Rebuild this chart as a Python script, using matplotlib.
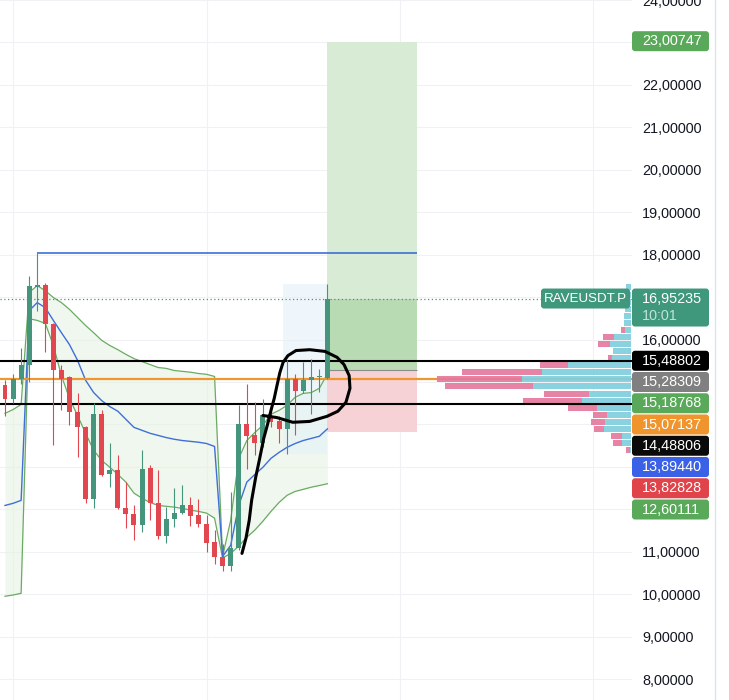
import numpy as np
import matplotlib
matplotlib.use('Agg')
import matplotlib.pyplot as plt
from matplotlib.patches import Rectangle, FancyBboxPatch
from matplotlib.lines import Line2D

plt.rcParams['font.family'] = ['Liberation Sans', 'DejaVu Sans']

# candles
opens = [14.92, 14.61, 15.07, 15.41, 17.23, 17.29, 16.37, 15.29, 15.11, 14.29,
         13.93, 12.24, 14.25, 12.82, 12.92, 12.02, 11.88, 11.62, 12.97, 12.15,
         11.36, 11.76, 11.92, 12.11, 11.86, 11.66, 11.22, 10.87, 10.67, 11.08,
         14.02, 13.74, 13.56, 14.17, 14.09, 13.88, 15.08, 14.79, 15.04, 15.11,
         15.10]
highs = [15.04, 15.18, 15.79, 17.50, 18.05, 17.33, 16.40, 15.39, 15.15, 14.73,
         13.96, 14.50, 14.33, 13.55, 13.27, 12.64, 12.10, 13.40, 13.04, 12.93,
         12.05, 12.49, 12.58, 12.29, 12.25, 11.86, 11.51, 11.19, 12.41, 14.45,
         14.96, 14.52, 14.60, 14.40, 14.20, 15.51, 15.19, 15.47, 15.55, 15.31,
         17.31]
lows = [14.20, 14.50, 14.96, 15.00, 16.68, 15.70, 13.51, 14.33, 13.98, 13.23,
        12.14, 12.03, 12.78, 12.52, 12.00, 11.55, 11.27, 11.47, 11.74, 11.31,
        11.20, 11.58, 11.90, 11.61, 11.58, 11.00, 10.72, 10.55, 10.55, 11.05,
        12.96, 13.27, 13.47, 13.94, 13.55, 13.31, 13.74, 14.75, 14.25, 14.76,
        15.08]
closes = [14.61, 15.07, 15.41, 17.25, 17.29, 16.37, 15.29, 15.08, 14.29, 13.94,
          12.24, 14.25, 12.81, 12.92, 12.02, 11.88, 11.62, 12.96, 12.15, 11.36,
          11.76, 11.92, 12.11, 11.84, 11.65, 11.21, 10.87, 10.67, 11.08, 14.02,
          13.72, 13.56, 14.21, 14.05, 13.88, 15.08, 14.79, 15.04, 15.11, 15.13,
          16.95235]

# anchored vwap with bands (resets at bar 3 and bar 27)
upper_band = [14.26, 14.35, 14.47,
              17.11, 17.27, 17.15, 16.99, 16.87, 16.71, 16.52, 16.33, 16.16, 15.98,
              15.86, 15.76, 15.65, 15.55, 15.48, 15.41, 15.34, 15.32, 15.27, 15.25,
              15.23, 15.20, 15.18, 15.13,
              10.89, 11.74, 13.20, 13.62, 13.81, 13.98, 14.24, 14.33, 14.45, 14.64,
              14.73, 14.75, 14.85, 15.18768]
vwap = [12.09, 12.14, 12.21,
        16.68, 16.87, 16.75, 16.45, 16.16, 15.88, 15.51, 15.04, 14.75, 14.56,
        14.42, 14.31, 14.12, 13.93, 13.86, 13.79, 13.74, 13.69, 13.65, 13.62,
        13.60, 13.58, 13.55, 13.48,
        10.89, 11.15, 12.09, 12.64, 12.82, 12.99, 13.20, 13.34, 13.46, 13.55,
        13.62, 13.67, 13.72, 13.89440]
lower_band = [9.95, 9.98, 10.02,
              16.49, 16.45, 16.38, 15.86, 15.15, 14.61, 14.21, 13.79, 13.39, 13.15,
              12.99, 12.82, 12.64, 12.38, 12.26, 12.16, 12.09, 12.07, 12.05, 12.02,
              11.98, 11.95, 11.91, 11.79,
              10.85, 10.96, 11.13, 11.34, 11.51, 11.72, 11.95, 12.16, 12.33, 12.42,
              12.47, 12.52, 12.56, 12.60111]

# visible range volume profile, rows from top to bottom
vp_top, vp_bottom = 17.31, 13.31
vp_up = [5, 6, 6, 6, 7, 7, 6, 17, 21, 18, 19, 63, 89, 109, 98, 42, 49, 34, 24, 26, 27, 9, 9, 1]
vp_down = [0, 0, 0, 0, 0, 0, 4, 11, 12, 0, 4, 28, 80, 85, 88, 45, 59, 29, 14, 14, 10, 11, 9, 4]
vp_first_bar, vp_last_bar = 34.5, 40

black_levels = [15.48802, 14.48806]
orange_level = 15.07137
blue_level = 18.05
blue_level_bars = (4, 51.1)
last_price = 16.95235
entry, target, stop = 15.28309, 23.00747, 13.82828
long_bars = (40, 51.1)

price_ticks = [8, 9, 10, 11, 16, 18, 19, 20, 21, 22, 24]
axis_labels = [15.48802, 15.28309, 15.18768, 15.07137, 14.48806, 13.89440, 13.82828, 12.60111]
axis_label_colors = ['#000000', '#808080', '#5aa95a', '#f0952d', '#0a0a0a', '#3b62e6', '#e0434a', '#5aa95a']

# hand drawn circle + stroke, in (bar index, price)
scribble_x = [32.0, 33.75, 35.7, 37.8, 39.95, 41.3, 42.3, 42.8, 42.7, 42.06, 41.2, 39.7, 37.8,
              36.1, 35.1, 34.5, 34.1, 33.75, 33.4, 33.0, 32.6, 32.1, 31.6, 31.1, 30.6, 30.3,
              29.9, 29.4]
scribble_p = [14.21, 14.16, 14.05, 14.07, 14.19, 14.31, 14.52, 14.85, 15.15, 15.41, 15.58, 15.72,
              15.76, 15.74, 15.62, 15.46, 15.22, 14.92, 14.61, 14.33, 14.02, 13.67, 13.20, 12.75,
              12.21, 11.74, 11.32, 10.96]

W, H = 729, 700
AX_W = 632
PX_PER_BAR = 8.06
PX_PER_UNIT = 42.5
X0 = -5 / PX_PER_BAR
X1 = (AX_W - 5) / PX_PER_BAR
Y0 = 18 - 446 / PX_PER_UNIT
Y1 = 18 + 254 / PX_PER_UNIT

green = '#45957d'
red = '#e2464f'
teal = '#3f977c'


def fmt(v):
    return f'{v:.5f}'.replace('.', ',')


def py(p):
    return (Y1 - p) / (Y1 - Y0) * H


def label_box(x0, ytop, w, h, color):
    fig.add_artist(FancyBboxPatch((x0 / W, 1 - (ytop + h) / H), w / W, h / H,
                                  boxstyle=f'round,pad=0,rounding_size={3 / W}',
                                  mutation_aspect=W / H, transform=fig.transFigure,
                                  facecolor=color, edgecolor='none', zorder=10))


def label_text(xpx, ypx, s, color='white', size=10.4, ha='left'):
    fig.text(xpx / W, 1 - ypx / H, s, color=color, fontsize=size, ha=ha, va='center', zorder=11)


fig = plt.figure(figsize=(W / 100, H / 100), dpi=100)
ax = fig.add_axes([0, 0, AX_W / W, 1])
ax.set_xlim(X0, X1)
ax.set_ylim(Y0, Y1)
for s in ax.spines.values():
    s.set_visible(False)

x = np.arange(len(opens))

# grid
for g in range(8, 25):
    ax.axhline(g, color='#eff1f4', lw=0.8, zorder=0)
for g in [1, 25, 49, 73]:
    ax.axvline(g, color='#eff1f4', lw=0.8, zorder=0)

# bands
ax.fill_between(x, lower_band, upper_band, color='#e6f3e3', alpha=0.6, lw=0, zorder=1)
ax.add_patch(Rectangle((vp_first_bar, vp_bottom), vp_last_bar - vp_first_bar, vp_top - vp_bottom,
                       facecolor='#e3f0f8', alpha=0.55, lw=0, zorder=1.2))

# long position
lw_bars = long_bars[1] - long_bars[0]
ax.add_patch(Rectangle((long_bars[0], entry), lw_bars, target - entry, facecolor='#d7ebd5', lw=0, zorder=1.5))
ax.add_patch(Rectangle((long_bars[0], entry), lw_bars, last_price - entry, facecolor='#b9dbb4', lw=0, zorder=1.6))
ax.add_patch(Rectangle((long_bars[0], stop), lw_bars, entry - stop, facecolor='#f6d1d5', lw=0, zorder=1.5))
ax.hlines(entry, long_bars[0], long_bars[1], color='#8c8c8c', lw=0.8, zorder=1.7)

ax.plot(x, upper_band, color='#6aab62', lw=0.9, zorder=2)
ax.plot(x, lower_band, color='#6aab62', lw=0.9, zorder=2)
ax.plot(x, vwap, color='#3f6fd8', lw=1.0, zorder=2.1)

# levels
ax.hlines(blue_level, blue_level_bars[0], blue_level_bars[1], color='#3d6fd9', lw=1.2, zorder=2.5)
ax.axhline(last_price, color='#5d8b82', lw=0.9, ls=(0, (1, 2)), zorder=2.5)
ax.axhline(orange_level, color='#f0962f', lw=1.6, zorder=2.6)

# volume profile
rows = np.arange(len(vp_up))
row_h = (vp_top - vp_bottom) / len(vp_up)
centers = vp_top - (rows + 0.5) * row_h
right = X1 - 1 / PX_PER_BAR
up = np.array(vp_up) / PX_PER_BAR
down = np.array(vp_down) / PX_PER_BAR
ax.barh(centers, up, left=right - up, height=row_h * 0.85, color='#80cfdd', alpha=0.92, lw=0, zorder=3.5)
ax.barh(centers, down, left=right - up - down, height=row_h * 0.85, color='#e5789c', alpha=0.92, lw=0, zorder=3.5)

for lv in black_levels:
    ax.axhline(lv, color='black', lw=1.5, zorder=4)

# candles
o = np.array(opens)
c = np.array(closes)
cols = [green if cc >= oo else red for oo, cc in zip(opens, closes)]
body_lo = np.minimum(o, c)
body_h = np.maximum(np.abs(c - o), 0.04)
ax.vlines(x, lows, highs, color=cols, lw=0.8, zorder=4.4)
ax.bar(x, body_h, bottom=body_lo, width=0.62, color=cols, lw=0, zorder=4.5)

ax.plot(scribble_x, scribble_p, color='black', lw=2.2, solid_capstyle='round',
        solid_joinstyle='round', zorder=7)

# price scale
ax.yaxis.tick_right()
ax.set_yticks(price_ticks)
ax.set_yticklabels([fmt(t) for t in price_ticks])
ax.tick_params(axis='y', length=0, pad=7.2, labelsize=10.4, labelcolor='#131722')
ax.set_xticks([])

fig.add_artist(Line2D([715 / W, 715 / W], [0, 1], transform=fig.transFigure, color='#e0e3eb', lw=1))

# axis labels
box_w = 77
box_h = 20
label_box(632, py(target) - box_h / 2, box_w, box_h, '#5aa95a')
label_text(642, py(target), fmt(target))

label_box(632, py(last_price) - 10, box_w, 38, teal)
label_text(642, py(last_price), fmt(last_price))
label_text(642, py(last_price) + 17.5, '10:01', color='#bfe3d6')

label_box(541, py(last_price) - box_h / 2, 89, box_h, teal)
label_text(585.5, py(last_price), 'RAVEUSDT.P', size=9.6, ha='center')

for k, (val, col) in enumerate(zip(axis_labels, axis_label_colors)):
    yc = py(axis_labels[0]) + k * 0.5 * PX_PER_UNIT
    label_box(632, yc - box_h / 2, box_w, box_h, col)
    label_text(642, yc, fmt(val))

fig.savefig('out.png', dpi=100)
